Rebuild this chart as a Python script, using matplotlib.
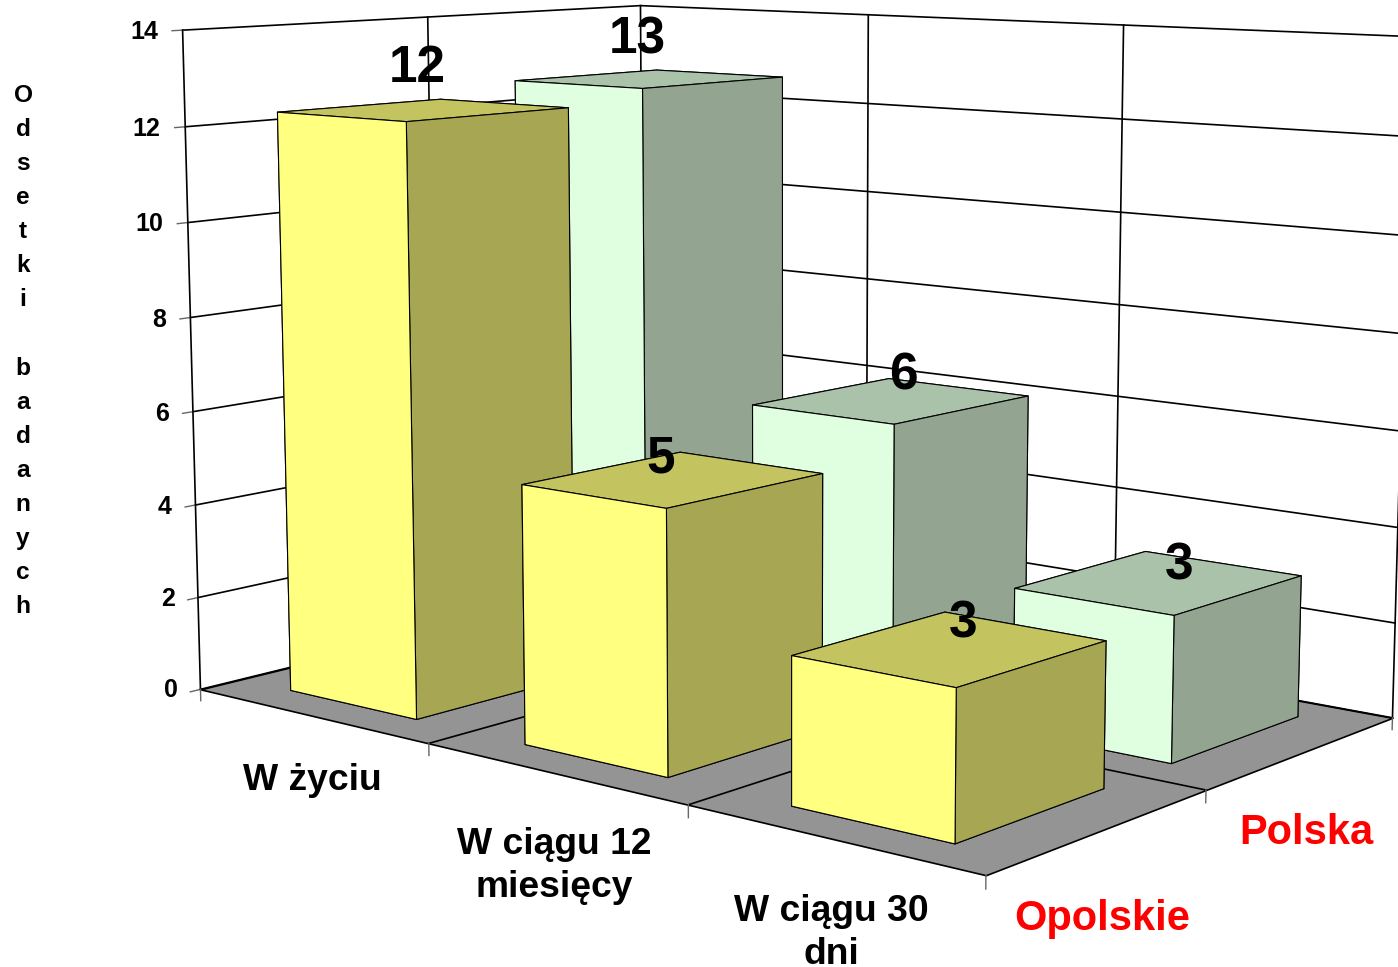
import matplotlib
matplotlib.use("Agg")
import matplotlib.pyplot as plt
from mpl_toolkits.mplot3d.art3d import Poly3DCollection

plt.rcParams['font.family'] = ['Liberation Sans', 'DejaVu Sans']
plt.rcParams['font.weight'] = 'bold'

categories = ["W życiu", "W ciągu 12\nmiesięcy", "W ciągu 30\ndni"]
series_names = ["Opolskie", "Polska"]
opolskie = [12.31, 5.29, 2.89]
polska = [12.59, 5.99, 2.97]
opolskie_labels = ["12", "5", "3"]
polska_labels = ["13", "6", "3"]
z_ticks = [0, 2, 4, 6, 8, 10, 12, 14]
y_title = "Odsetki badanych"

W, H = 1398, 967

# faces in bar3d order: -Z, +Z, -Y, +Y, -X, +X
yellow = ['#FFFF80', '#C3C360', '#FFFF80', '#FFFF80', '#FFFF80', '#A6A653']
green = ['#E0FFE0', '#AAC1AA', '#E0FFE0', '#E0FFE0', '#E0FFE0', '#93A591']
bx = 0.2239
by = 0.1653


def px(x, y):
    return x / W, 1 - y / H


fig = plt.figure(figsize=(W / 100, H / 100), dpi=100)
ax = fig.add_axes([0.0533, 0.1003, 1, 1], projection='3d', computed_zorder=False)
ax.set_proj_type('persp', focal_length=0.6519)
ax.view_init(elev=8.8225, azim=-50.3161)
ax.set_xlim(0, 3, view_margin=0)
ax.set_ylim(0, 2, view_margin=0)
ax.set_zlim(0, 14, view_margin=0)
ax.set_box_aspect((3, 2.0393, 2.0232), zoom=1.3971)
ax.set_axis_off()

# floor
floor = Poly3DCollection([[(0, 0, 0), (3, 0, 0), (3, 2, 0), (0, 2, 0)]], facecolor='#949494',
                         edgecolor='black', linewidth=1.2, zorder=1)
ax.add_collection3d(floor)

# walls and ticks
line = dict(color='black', lw=1.2, zorder=2)
tick = dict(color='#666666', lw=1.0, zorder=2)
for z in z_ticks:
    ax.plot([0, 0, 3], [0, 2, 2], [z, z, z], **line)
    ax.plot([0, 0], [0, -0.04], [z, z], **tick)
for yy in range(3):
    ax.plot([0, 0], [yy, yy], [0, 14], **line)
for xx in range(1, 4):
    ax.plot([xx, xx], [2, 2], [0, 14], **line)
for xx in range(1, 3):
    ax.plot([xx, xx], [0, 2], [0, 0], **line)
ax.plot([0, 3], [1, 1], [0, 0], **line)
for xx in range(4):
    ax.plot([xx, xx], [0, 0], [0, -0.25], **tick)
for yy in range(1, 3):
    ax.plot([3, 3], [yy, yy], [0, -0.25], **tick)

# back row first so the front row paints over it
order = 3
for s, vals, cols in [(1, polska, green), (0, opolskie, yellow)]:
    for i, v in enumerate(vals):
        ax.bar3d([i + bx], [s + by], [0], 1 - 2 * bx, 1 - 2 * by, [v], color=cols, shade=False,
                 edgecolor='black', linewidth=0.8, zorder=order)
        order += 1

for artist in ax.get_children():
    artist.set_clip_on(False)

# text
tick_x = [178, 175, 172, 169, 166, 163, 160, 158]
tick_y = [690, 599, 507, 414, 320, 224, 129, 32]
for z, x, y in zip(z_ticks, tick_x, tick_y):
    fig.text(*px(x, y), str(z), fontsize=18, ha='right', va='center')

fig.text(*px(23, 351), "\n".join(y_title), fontsize=17.6, ha='center', va='center', linespacing=1.615)

for txt, (x, y) in zip(opolskie_labels, [(417, 69), (661, 459), (963, 624)]):
    fig.text(*px(x, y), txt, fontsize=37, ha='center', va='center', zorder=20)
for txt, (x, y) in zip(polska_labels, [(637, 40), (903, 376), (1179, 566)]):
    fig.text(*px(x, y), txt, fontsize=37, ha='center', va='center', zorder=20)

for txt, (x, y) in zip(categories, [(312, 780), (554, 866), (831, 933)]):
    fig.text(*px(x, y), txt, fontsize=26.8, ha='center', va='center', linespacing=1.3)
for txt, (x, y) in zip(series_names, [(1102, 919), (1306, 833)]):
    fig.text(*px(x, y), txt, fontsize=30, color='#FF0000', ha='center', va='center')

fig.savefig("out.png", dpi=100)
